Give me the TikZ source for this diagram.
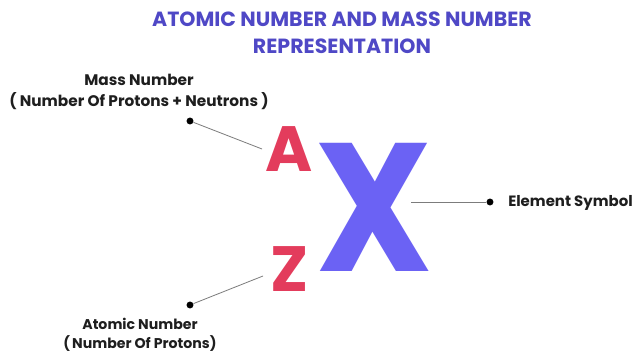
\documentclass[tikz,border=0pt]{standalone}
\usepackage{fontspec}
\setmainfont{Poppins}
\usepackage{xcolor}
\usepackage{tikz}
\usetikzlibrary{positioning}
\definecolor{cTitle}{HTML}{4F48C6}
\definecolor{cSym}{HTML}{6B62F4}
\definecolor{cNum}{HTML}{E33C5C}
\definecolor{cLead}{HTML}{7C7C7C}
\definecolor{cTxt}{HTML}{1E1E1E}
\tikzset{
  ttl/.style={font=\bfseries\fontsize{15.4}{20.3}\selectfont,text=cTitle,
      align=center,inner sep=0pt},
  lbl/.style={font=\bfseries\fontsize{10.6}{14.2}\selectfont,text=cTxt,
      align=center,inner sep=0pt},
  nuc/.style={font=\bfseries\fontsize{48}{48}\selectfont,text=cNum,
      inner sep=0pt,anchor=base},
  elem/.style={font=\bfseries\fontsize{137}{137}\selectfont,text=cSym,
      inner sep=0pt,anchor=base},
  pin/.style={circle,fill=black,inner sep=0pt,minimum size=5.2pt},
  lead/.style={draw=cLead,line width=0.6pt},
}

\begin{document}
\begin{tikzpicture}[x=0.75pt,y=-0.75pt]
  \useasboundingbox[fill=white] (0,0) rectangle (635,352);

  \node[ttl] (title) at (342,33)
   {ATOMIC NUMBER AND MASS NUMBER\\REPRESENTATION};

  % the symbol with its two numbers
  \node[elem] (X) at (374,272) {\scalebox{0.9}[1]{X}};
  \node[nuc] (A) at (289.5,172) {A};
  \node[nuc] (Z) at (289.5,292) {Z};

  % labels
  \node[lbl,font=\bfseries\fontsize{11.5}{15.2}\selectfont] (mass) at (139,92)
   {Mass Number\\( Number Of Protons + Neutrons )};
  \node[lbl] (atomic) at (140,335) {Atomic Number\\(\kern1.5pt Number Of Protons)};
  \node[lbl,font=\bfseries\fontsize{11.2}{14}\selectfont,anchor=base east]
   (symb) at (633,206.5) {Element Symbol};

  % leader lines
  \node[pin] (mdot) at (190,121) {};
  \node[pin] (zdot) at (190,305) {};
  \node[pin] (xdot) at (490,202) {};
  \coordinate (atip) at (262,149);
  \coordinate (ztip) at (263,276);
  \coordinate (xtip) at (411,202);
  \draw[lead] (mdot) -- (atip);
  \draw[lead] (zdot) -- (ztip);
  \draw[lead] (xdot) -- (xtip);
\end{tikzpicture}
\end{document}
